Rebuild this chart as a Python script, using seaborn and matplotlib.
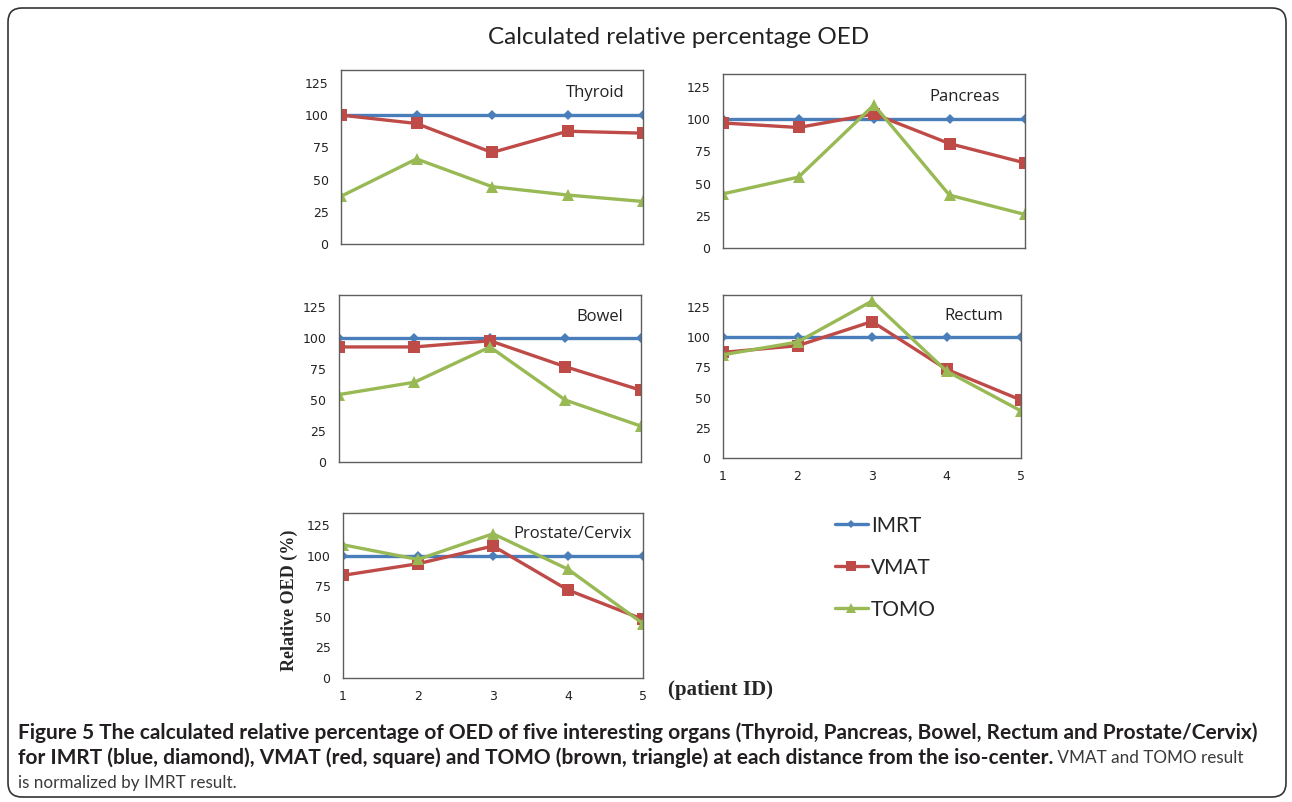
import matplotlib
matplotlib.use("Agg")
import matplotlib.pyplot as plt
import matplotlib.patches as mpatches
import seaborn as sns
import pandas as pd

# Данные
patients = [1, 2, 3, 4, 5]
plans = ["IMRT", "VMAT", "TOMO"]
organs = ["Thyroid", "Pancreas", "Bowel", "Rectum", "Prostate/Cervix"]

imrt = [100, 100, 100, 100, 100]
thyroid_vmat = [100, 93.5, 71, 87.5, 86]
thyroid_tomo = [37, 66, 44.5, 38, 33]
pancreas_vmat = [97, 93.5, 104, 81, 66]
pancreas_tomo = [42, 55, 111, 41, 26]
bowel_vmat = [93, 93, 98, 77, 58]
bowel_tomo = [54.5, 64.5, 93, 50, 29]
rectum_vmat = [87.5, 93, 113, 73.5, 48]
rectum_tomo = [85.5, 96, 130, 72, 39]
prostate_vmat = [84, 93.5, 108, 72, 48]
prostate_tomo = [109, 97, 118, 89, 44.5]

yticks = [0, 25, 50, 75, 100, 125]

values = {
    "Thyroid": [imrt, thyroid_vmat, thyroid_tomo],
    "Pancreas": [imrt, pancreas_vmat, pancreas_tomo],
    "Bowel": [imrt, bowel_vmat, bowel_tomo],
    "Rectum": [imrt, rectum_vmat, rectum_tomo],
    "Prostate/Cervix": [imrt, prostate_vmat, prostate_tomo],
}

colors = {"IMRT": "#4a7ebb", "VMAT": "#be4b48", "TOMO": "#98b954"}
markers = {"IMRT": "D", "VMAT": "s", "TOMO": "^"}
msizes = {"IMRT": 5, "VMAT": 9, "TOMO": 9}

sns.set_style("white")
plt.rcParams["font.family"] = ["DejaVu Sans"]

W, H = 1292, 802
fig = plt.figure(figsize=(W / 100, H / 100), dpi=100)

# положение осей в пикселях: left, top, right, bottom
boxes = {
    "Thyroid": (341, 70, 643, 244),
    "Pancreas": (723, 74, 1025, 248),
    "Bowel": (339, 295, 641, 462),
    "Rectum": (723, 295, 1021, 458),
    "Prostate/Cervix": (343, 513, 643, 678),
}
# положение названия органа внутри осей
name_x = {"Thyroid": 0.94, "Pancreas": 0.917, "Bowel": 0.94, "Rectum": 0.94,
          "Prostate/Cervix": 0.963}
with_xlabels = {"Rectum", "Prostate/Cervix"}

axes = {}
for organ in organs:
    l, t, r, b = boxes[organ]
    ax = fig.add_axes([l / W, 1 - b / H, (r - l) / W, (b - t) / H])
    axes[organ] = ax
    for plan, vals in zip(plans, values[organ]):
        df = pd.DataFrame({"patient": patients, "oed": vals})
        sns.lineplot(data=df, x="patient", y="oed", ax=ax, color=colors[plan],
                     marker=markers[plan], markersize=msizes[plan], markeredgewidth=0,
                     linewidth=2.4, label=plan, legend=False)
    ax.set_xlim(1, 5)
    ax.set_ylim(0, 135)
    ax.set_yticks(yticks)
    ax.set_xticks(patients)
    ax.set_xlabel("")
    ax.set_ylabel("")
    for s in ax.spines.values():
        s.set_color("#5e5e5e")
        s.set_linewidth(1)
    ax.tick_params(axis="y", length=0, pad=9, labelsize=9, labelcolor="#222222")
    if organ in with_xlabels:
        ax.tick_params(axis="x", length=4, width=1, color="#5e5e5e", pad=5,
                       labelsize=9, labelcolor="#222222", direction="out")
    else:
        ax.tick_params(axis="x", length=0, labelbottom=False)
    ax.text(name_x[organ], 0.87, organ, transform=ax.transAxes, ha="right", va="center",
            fontsize=12, family="Open Sans", color="#222222")

# легенда
handles = axes["Thyroid"].get_lines()[:3]
fig.legend(handles, plans, loc="upper left", bbox_to_anchor=(816 / W, 1 - 497 / H),
           frameon=False, prop={"family": "Lato", "size": 15}, handlelength=1.6,
           handletextpad=0.15, labelspacing=1.05, markerscale=0.8)

fig.text(0.525, 1 - 38 / H, "Calculated relative percentage OED", ha="center", va="center",
         fontsize=17.5, family="Lato", color="#222222")
fig.text(289 / W, 1 - 600 / H, "Relative OED (%)", rotation=90, ha="center", va="center",
         fontsize=13, fontweight="bold", family="Liberation Serif")
fig.text(668 / W, 1 - 690 / H, "(patient ID)", ha="left", va="center",
         fontsize=15, fontweight="bold", family="Liberation Serif")

# рамка
box = mpatches.FancyBboxPatch((0.08, 0.05), 12.78, 7.89,
                              boxstyle="round,pad=0,rounding_size=0.14",
                              transform=fig.dpi_scale_trans, fill=False,
                              ec="#333333", lw=1.2)
fig.add_artist(box)

# подпись
line1 = ("Figure 5 The calculated relative percentage of OED of five interesting organs "
         "(Thyroid, Pancreas, Bowel, Rectum and Prostate/Cervix)")
line2b = ("for IMRT (blue, diamond), VMAT (red, square) and TOMO (brown, triangle) "
          "at each distance from the iso-center.")
line2n = " VMAT and TOMO result"
line3 = "is normalized by IMRT result."

cap_font = "Lato"
t1 = fig.text(18 / W, 1 - 733 / H, line1, ha="left", va="center", fontsize=13,
              fontweight="bold", family=cap_font, color="#231f20")
fig.canvas.draw()
rend = fig.canvas.get_renderer()
fs = 13 * (1240 / t1.get_window_extent(rend).width)
t1.set_fontsize(fs)
t2 = fig.text(18 / W, 1 - 758 / H, line2b, ha="left", va="center", fontsize=fs,
              fontweight="bold", family=cap_font, color="#231f20")
fig.canvas.draw()
x2 = t2.get_window_extent(rend).x1
fs_n = fs * 0.82
fig.text(x2 / W, 1 - 758 / H, line2n, ha="left", va="center", fontsize=fs_n,
         family=cap_font, color="#3a3a3a")
fig.text(18 / W, 1 - 783 / H, line3, ha="left", va="center", fontsize=fs_n,
         family=cap_font, color="#3a3a3a")

fig.savefig("out.png", dpi=100)
